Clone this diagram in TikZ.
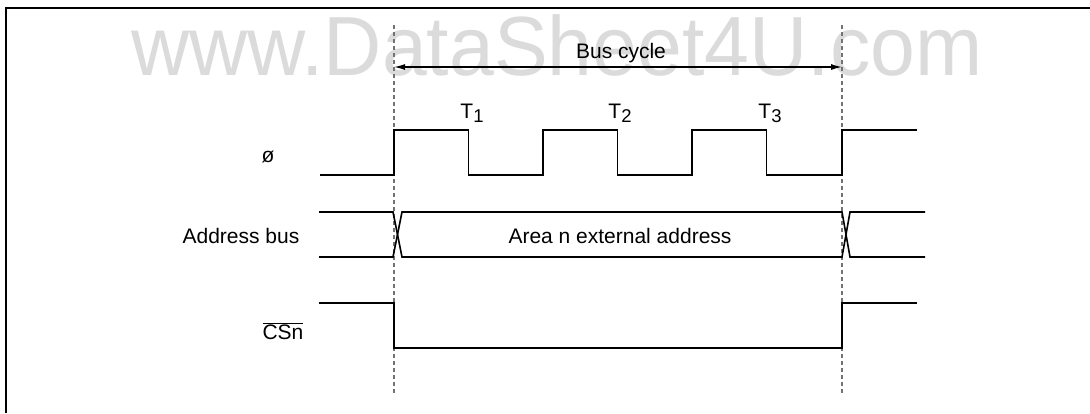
\documentclass[tikz,border=0pt]{standalone}
\usepackage{fontspec}
\setmainfont{Liberation Sans}
\usetikzlibrary{arrows.meta}
\newcommand{\Tsub}[1]{T\raisebox{-4pt}{\fontsize{18.5}{20}\selectfont #1}}
\begin{document}
\begin{tikzpicture}[x=1pt,y=-1pt,
  wave/.style={line width=1.6pt, black, line join=miter},
  guide/.style={line width=1.3pt, black!55, dash pattern=on 4pt off 3pt},
  lbl/.style={font=\fontsize{21}{24}\selectfont, inner sep=0pt},
  wmark/.style={font=\fontsize{84}{90}\selectfont, text=black!14, inner sep=0pt, xscale=0.96},
  frame/.style={line width=2.2pt, black},
  span/.style={line width=1.3pt, {Latex[length=11pt,width=6pt]}-{Latex[length=11pt,width=6pt]}}]
\useasboundingbox (0,0) rectangle (1090,413);
% watermark
\node[wmark, anchor=base west] (wm) at (131,75) {www.DataSheet4U.com};
% frame (open to the right and bottom)
\coordinate (fbl) at (6,413);
\coordinate (ftl) at (6,8);
\coordinate (ftr) at (1090,8);
\draw[frame] (fbl) -- (ftl) -- (ftr);
% guides
\coordinate (g1t) at (394,25); \coordinate (g1b) at (394,393);
\coordinate (g2t) at (842,25); \coordinate (g2b) at (842,393);
\draw[guide] (g1t) -- (g1b);
\draw[guide] (g2t) -- (g2b);
% bus cycle
\coordinate (bcL) at (394,67); \coordinate (bcR) at (842,67);
\draw[span] (bcL) -- (bcR);
\node[lbl] (bus) at (621,53) {Bus cycle};
% T labels
\node[lbl, anchor=base] (t1) at (472,118) {\Tsub{1}};
\node[lbl, anchor=base] (t2) at (620,118) {\Tsub{2}};
\node[lbl, anchor=base] (t3) at (770,118) {\Tsub{3}};
% clock
\node[lbl] (phi) at (268,157) {ø};
\draw[wave] (320,175) -- (394,175) -- (394,130) -- (468.5,130) -- (468.5,175) -- (543,175) -- (543,130)
  -- (617.5,130) -- (617.5,175) -- (692,175) -- (692,130) -- (766.5,130) -- (766.5,175) -- (842,175)
  -- (842,130) -- (917,130);
% address bus
\node[lbl] (addr) at (241,236) {Address bus};
\node[lbl] (area) at (620,236) {Area n external address};
\draw[wave] (319,212) -- (393,212) -- (402,257) -- (842,257) -- (850,212) -- (925,212);
\draw[wave] (319,257) -- (393,257) -- (402,212) -- (842,212) -- (850,257) -- (925,257);
% CSn
\node[lbl] (cs) at (283,331) {$\overline{\mbox{CSn}}$};
\draw[wave] (319,303) -- (394,303) -- (394,348) -- (842,348) -- (842,303) -- (917,303);
\end{tikzpicture}
\end{document}
